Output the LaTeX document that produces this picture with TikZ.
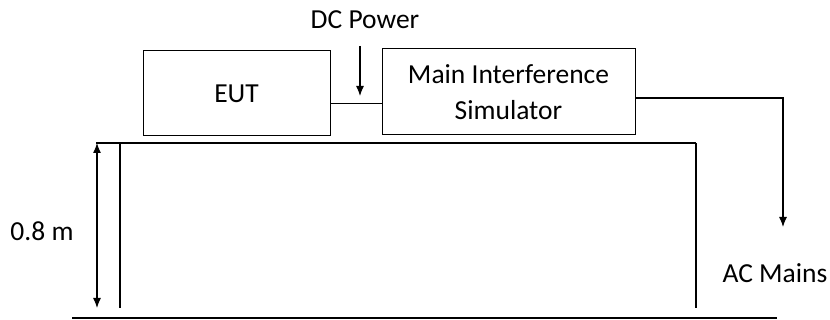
\documentclass[tikz,border=0pt]{standalone}
\usepackage{fontspec}
\setmainfont{Carlito}
\usetikzlibrary{arrows.meta,positioning,calc}

\begin{document}
\begin{tikzpicture}[
  x=1pt, y=-1pt,
  font=\fontsize{27.5}{36}\selectfont,
  box/.style={draw, line width=1pt, inner sep=0pt},
  wire/.style={line width=1.2pt},
  tip/.style={-{Latex[length=10pt,width=8pt]}, line width=1.2pt}
]
  \useasboundingbox (0,0) rectangle (830,320);

  % Boxes
  \node (eut) at (236.5,93.5) [box, minimum width=187pt, minimum height=85pt] {EUT};
  \node (mis) at (508.5,92) [box, minimum width=253pt, minimum height=86pt, align=center] {Main Interference\\Simulator};

  % Link between the boxes
  \draw [wire] ([yshift=-10pt]eut.east) -- ([yshift=-10pt]eut.east -| mis.west);

  % DC power feed
  \node (dc) at (365,20) {DC Power};
  \coordinate (dctop) at (360,46);
  \coordinate (dcend) at (360,96);
  \draw [tip] (dctop) -- (dcend);

  % AC mains
  \node (ac) at (775,273) {AC Mains};
  \coordinate (acend) at (783,227);
  \draw [tip] (mis.east |- 0,98) -| (acend);

  % Table
  \draw [wire] (96,143) -- (696,143);
  \draw [wire] (120,143) -- (120,308);
  \draw [wire] (696,143) -- (696,308);

  % Ground
  \draw [line width=2.5pt] (72,318) -- (777,318);

  % Height
  \coordinate (htop) at (97,143);
  \coordinate (hbot) at (97,308);
  \draw [tip, {Latex[length=10pt,width=8pt]}-{Latex[length=10pt,width=8pt]}] (htop) -- (hbot);
  \node (ht) at (42,231) {0.8 m};

\end{tikzpicture}
\end{document}
